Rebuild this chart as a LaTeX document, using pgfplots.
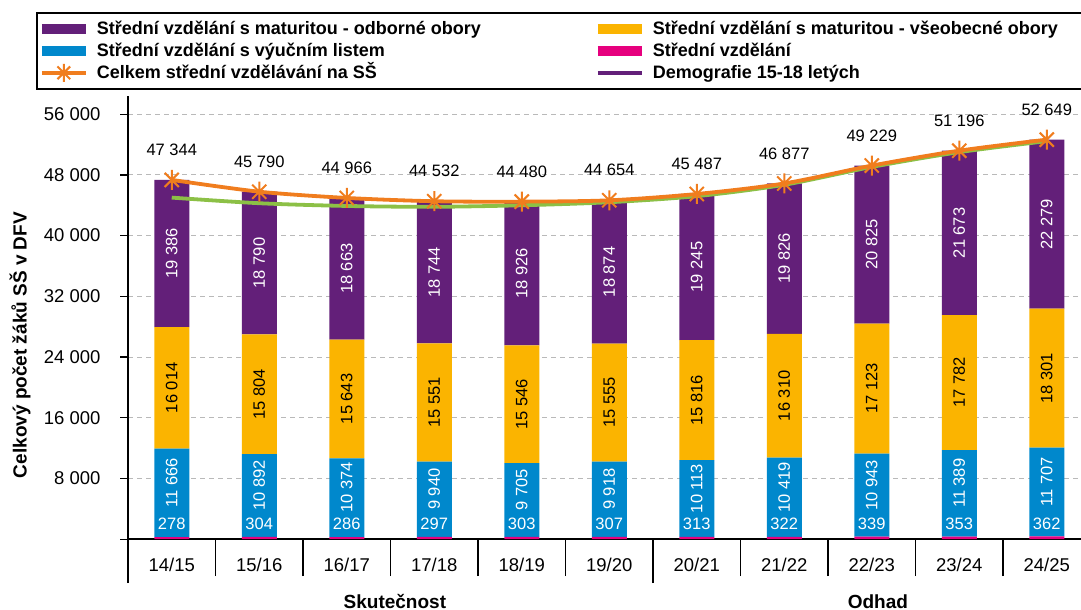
\documentclass[border=0pt]{standalone}
\usepackage{fontspec}
\setmainfont{Liberation Sans}
\usepackage{pgfplots}
\usepackage{pgfplotstable}
\pgfplotsset{compat=1.18}
\definecolor{purp}{RGB}{99,31,121}
\definecolor{yel}{RGB}{251,180,0}
\definecolor{blu}{RGB}{0,136,204}
\definecolor{pnk}{RGB}{230,0,126}
\definecolor{orl}{RGB}{240,125,30}
\definecolor{grn}{RGB}{140,192,70}
\definecolor{grd}{RGB}{185,185,185}

\pgfdeclareplotmark{xstar}{%
  \pgfpathmoveto{\pgfqpoint{0pt}{\pgfplotmarksize}}%
  \pgfpathlineto{\pgfqpoint{0pt}{-\pgfplotmarksize}}%
  \pgfpathmoveto{\pgfqpoint{0.7071\pgfplotmarksize}{0.7071\pgfplotmarksize}}%
  \pgfpathlineto{\pgfqpoint{-0.7071\pgfplotmarksize}{-0.7071\pgfplotmarksize}}%
  \pgfpathmoveto{\pgfqpoint{-0.7071\pgfplotmarksize}{0.7071\pgfplotmarksize}}%
  \pgfpathlineto{\pgfqpoint{0.7071\pgfplotmarksize}{-0.7071\pgfplotmarksize}}%
  \pgfusepathqstroke}

\pgfplotstableread{
x pnk blu yel purp total demo
0 278 11666 16014 19386 47344 45010
1 304 10892 15804 18790 45790 44270
2 286 10374 15643 18663 44966 43910
3 297 9940 15551 18744 44532 43800
4 303 9705 15546 18926 44480 44000
5 307 9918 15555 18874 44654 44400
6 313 10113 15816 19245 45487 45200
7 322 10419 16310 19826 46877 46700
8 339 10943 17123 20825 49229 49050
9 353 11389 17782 21673 51196 51000
10 362 11707 18301 22279 52649 52450
}\data

\pgfplotsset{
  common/.style={
    at={(128pt,70.8pt)}, anchor=south west,
    scale only axis, width=962.5pt, height=443.2pt,
    xmin=-0.5, xmax=10.5, ymin=0, ymax=58400,
  },
}
\tikzset{lbl/.style={font=\fontsize{16.5}{18}\selectfont}}
\pgfkeys{/pgf/number format/.cd, 1000 sep={\ }, assume math mode=true}

\begin{document}
\begin{tikzpicture}
\useasboundingbox (0pt,0pt) rectangle (1081pt,610pt);
\clip (0pt,0pt) rectangle (1081pt,610pt);

% ---------- bars ----------
\begin{axis}[common,
  ybar stacked, bar width=35pt,
  axis lines=left, axis line style={-, black, line width=1.5pt},
  clip=false,
  tick label style={font=\fontsize{18.5}{20}\selectfont},
  xtick={0,...,10},
  xticklabels={14/15,15/16,16/17,17/18,18/19,19/20,20/21,21/22,22/23,23/24,24/25},
  major x tick style={draw=none},
  xticklabel style={anchor=center, yshift=-18pt},
  minor xtick={0.5,1.5,2.5,3.5,4.5,6.5,7.5,8.5,9.5,10.5},
  minor x tick style={black, line width=1.3pt},
  minor tick length=37pt,
  extra x ticks={-0.5,5.5}, extra x tick labels={},
  extra x tick style={major tick length=44pt, major x tick style={draw=black, line width=1.3pt}, grid=none},
  tick align=outside,
  major tick length=8pt,
  ytick={0,8000,16000,24000,32000,40000,48000,56000},
  yticklabels={,8 000,16 000,24 000,32 000,40 000,48 000,56 000},
  yticklabel style={xshift=-16pt},
  y tick style={black, line width=1.3pt},
  ymajorgrids, grid style={grd, dash pattern=on 5pt off 4pt, line width=1pt},
  ylabel={Celkový počet žáků SŠ v DFV},
  every axis y label/.style={at={(rel axis cs:-0.1122,0.438)}, rotate=90, anchor=center,
     font=\bfseries\fontsize{19}{21}\selectfont},
]
\addplot[fill=pnk, draw=none] table[x=x,y=pnk]{\data};
\addplot[fill=blu, draw=none] table[x=x,y=blu]{\data};
\addplot[fill=yel, draw=none] table[x=x,y=yel]{\data};
\addplot[fill=purp, draw=none] table[x=x,y=purp]{\data};
\node[font=\bfseries\fontsize{19}{21}\selectfont] at (axis cs:2.55,-8180) {Skutečnost};
\node[font=\bfseries\fontsize{19}{21}\selectfont] at (axis cs:8.07,-8180) {Odhad};
\end{axis}

% ---------- lines, labels, legend ----------
\begin{axis}[common, hide axis, clip=false,
  legend image code/.code={\draw[mark repeat=2,mark phase=2,#1] plot coordinates {(0pt,0pt) (22pt,0pt) (44pt,0pt)};},
  legend style={
    at={(-0.09558,1.18953)}, anchor=north west,
    draw=black, line width=1.6pt,
    font=\bfseries\fontsize{18}{20}\selectfont,
    inner xsep=0pt, inner ysep=6.5pt, row sep=3pt,
    nodes={inner sep=0pt, text height=15pt, text depth=4pt},
    /tikz/every odd column/.append style={column sep=6pt},
    /tikz/every even column/.append style={column sep=112pt},
  },
  legend columns=2, legend cell align=left,
]
\addlegendimage{purp, line width=10pt}
\addlegendentry{Střední vzdělání s maturitou - odborné obory}
\addlegendimage{yel, line width=10pt}
\addlegendentry{Střední vzdělání s maturitou - všeobecné obory\hspace*{50pt}}
\addlegendimage{blu, line width=10pt}
\addlegendentry{Střední vzdělání s výučním listem}
\addlegendimage{pnk, line width=10pt}
\addlegendentry{Střední vzdělání\hspace*{50pt}}
\addlegendimage{orl, line width=3.5pt, mark=xstar, mark size=9pt, mark options={line width=2pt}}
\addlegendentry{Celkem střední vzdělávání na SŠ}
\addlegendimage{purp, line width=3.5pt}
\addlegendentry{Demografie 15-18 letých\hspace*{50pt}}

\addplot[grn, line width=3.8pt, smooth, forget plot] table[x=x,y=demo]{\data};
\addplot[orl, line width=3.8pt, smooth, mark=xstar, mark size=10pt,
  mark options={line width=2pt, solid},
  nodes near coords, point meta=explicit,
  every node near coord/.append style={lbl, black, anchor=center, yshift=30pt},
  forget plot] table[x=x,y=total,meta=total]{\data};

% labels in segments
\addplot[draw=none, mark=none, forget plot, nodes near coords, point meta=explicit,
  every node near coord/.append style={lbl, white, anchor=center, yshift=13pt}]
  table[x=x, y=pnk, meta=pnk]{\data};
\addplot[draw=none, mark=none, forget plot, nodes near coords, point meta=explicit,
  every node near coord/.append style={lbl, white, anchor=center, yshift=10pt, rotate=90}]
  table[x=x, y expr=\thisrow{pnk}+0.5*\thisrow{blu}, meta=blu]{\data};
\addplot[draw=none, mark=none, forget plot, nodes near coords, point meta=explicit,
  every node near coord/.append style={lbl, black, anchor=center, rotate=90}]
  table[x=x, y expr=\thisrow{pnk}+\thisrow{blu}+0.5*\thisrow{yel}, meta=yel]{\data};
\addplot[draw=none, mark=none, forget plot, nodes near coords, point meta=explicit,
  every node near coord/.append style={lbl, white, anchor=center, rotate=90}]
  table[x=x, y expr=\thisrow{pnk}+\thisrow{blu}+\thisrow{yel}+0.5*\thisrow{purp}, meta=purp]{\data};
\end{axis}
\end{tikzpicture}
\end{document}
